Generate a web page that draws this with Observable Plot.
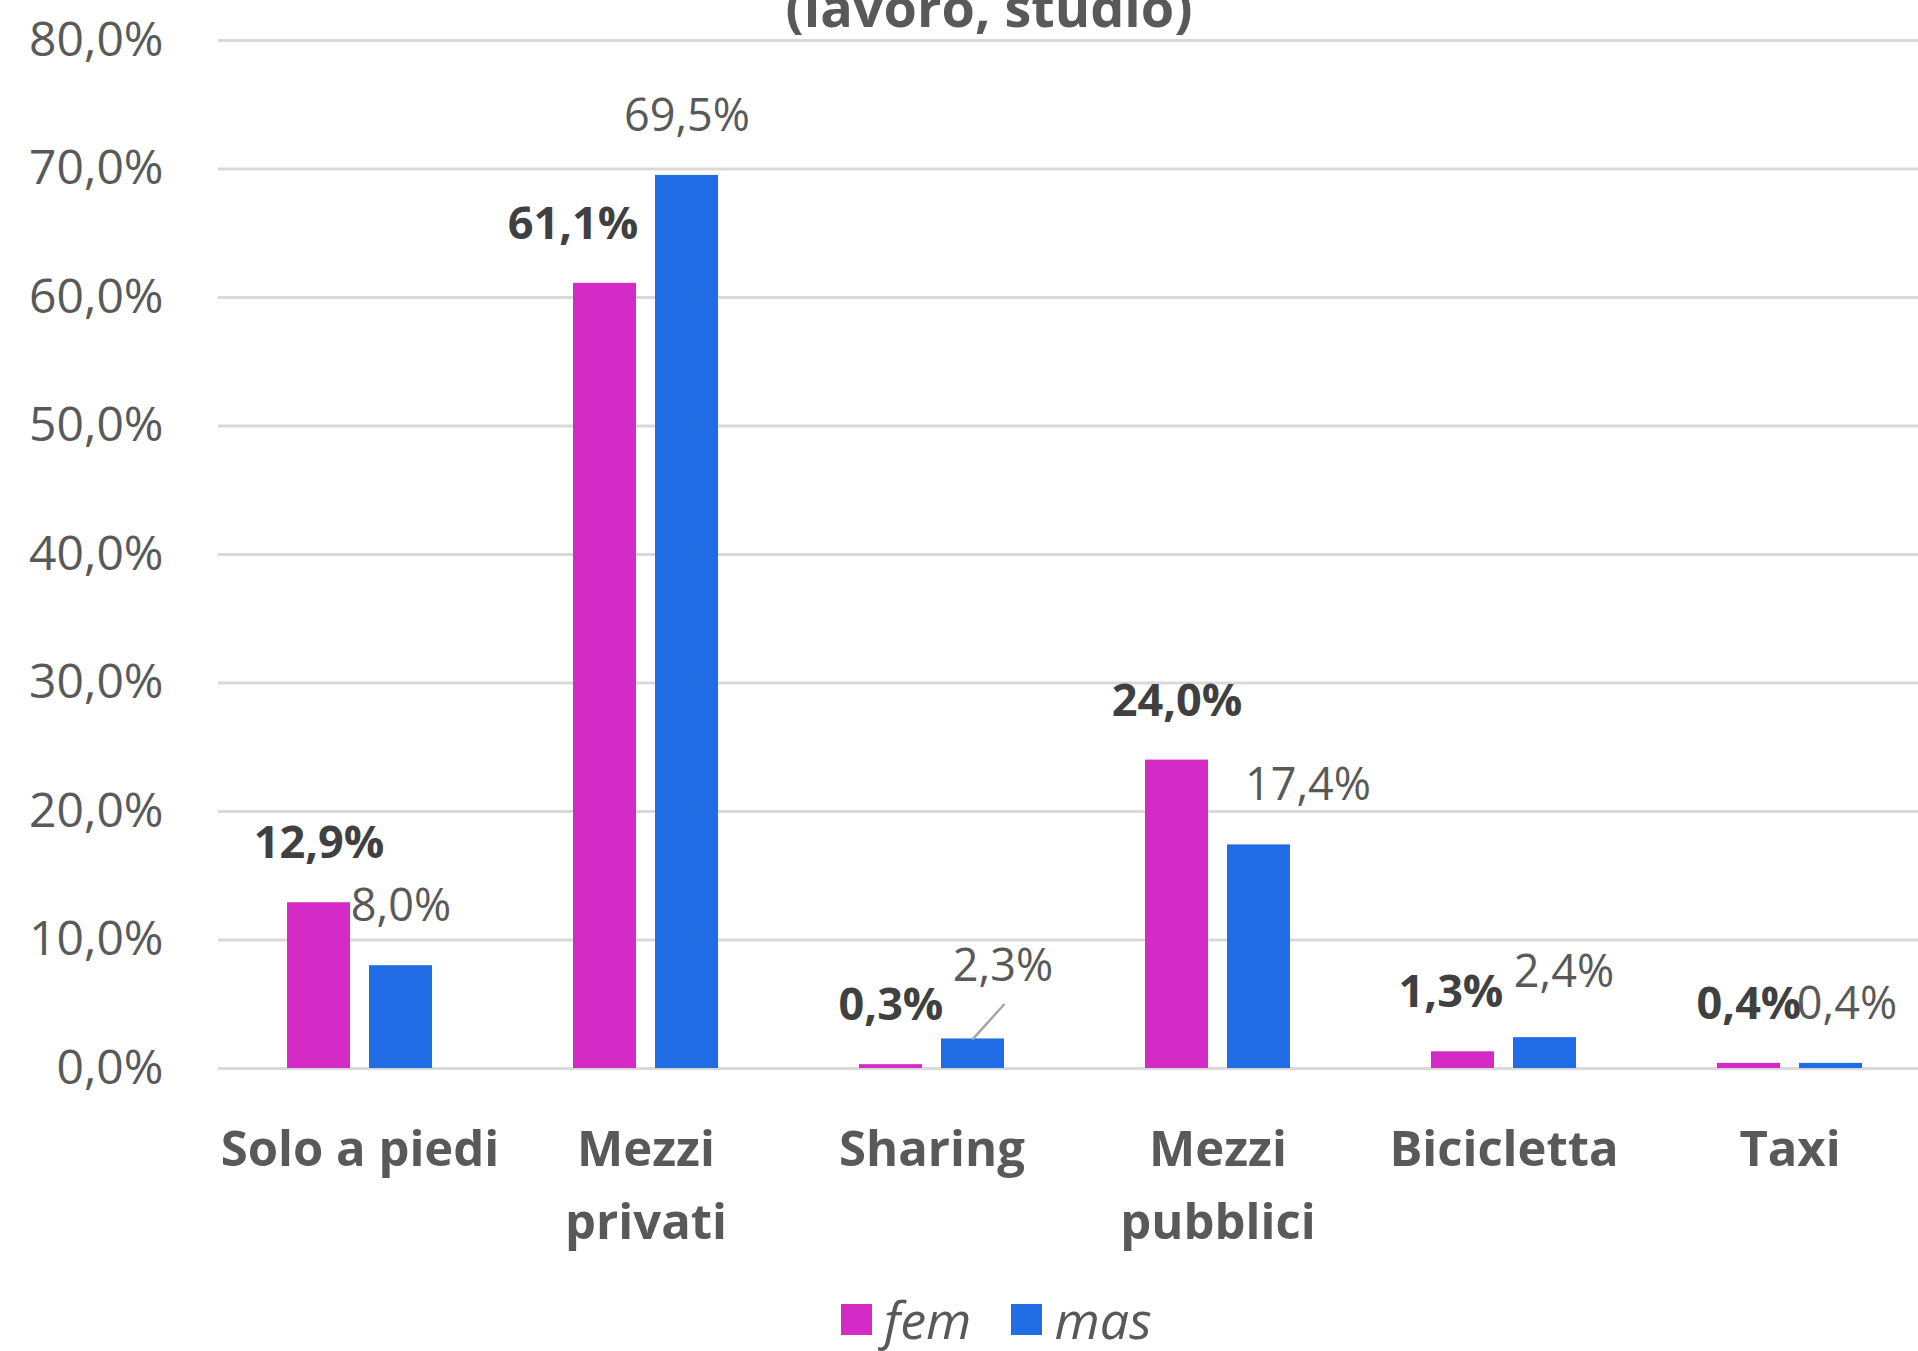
<!DOCTYPE html>
<html>
<head>
<meta charset="utf-8">
<script src="https://cdn.jsdelivr.net/npm/d3@7"></script>
<script src="https://cdn.jsdelivr.net/npm/@observablehq/plot@0.6"></script>
<style>
  html, body { margin: 0; padding: 0; background: #fff; overflow: hidden; }
  body { width: 1918px; height: 1351px; position: relative; font-family: "Open Sans", "Noto Sans", sans-serif; }
  #chart { position: absolute; left: 0; top: 0; }
  #title { position: absolute; left: 589px; width: 800px; top: -21px; text-align: center;
           font-size: 54px; line-height: 54px; font-weight: bold; color: #595959; white-space: nowrap; }
  #legend { position: absolute; left: 841px; top: 1289px; height: 60px; display: flex; align-items: center;
            font-size: 52px; line-height: 60px; font-style: italic; color: #595959; }
  #legend .sw { width: 31px; height: 31px; display: inline-block; margin-right: 12px; }
  #legend .item { display: flex; align-items: center; margin-right: 40px; height: 60px; }
</style>
</head>
<body>
<div id="chart"></div>
<div id="title">(lavoro, studio)</div>
<div id="legend"></div>
<script>
// ---- data ----
const categories = ["Solo a piedi", "Mezzi privati", "Sharing", "Mezzi pubblici", "Bicicletta", "Taxi"];
const categoryLabels = ["Solo a piedi", "Mezzi\nprivati", "Sharing", "Mezzi\npubblici", "Bicicletta", "Taxi"];
const series = ["fem", "mas"];
const femValues = [12.9, 61.1, 0.3, 24.0, 1.3, 0.4];
const masValues = [8.0, 69.5, 2.3, 17.4, 2.4, 0.4];
const yTicks = [0, 10, 20, 30, 40, 50, 60, 70, 80];

// ---- styling / layout ----
const colors = {fem: "#D42AC6", mas: "#1F6CE4"};
const barOffset = {fem: -41, mas: 41};
// manual label nudges (px) like the original's hand-placed data labels
const nudge = {
  "Mezzi privati|fem": [-32, 0],
  "Sharing|mas": [30, -13],
  "Mezzi pubblici|mas": [49, 0],
  "Bicicletta|fem": [-12, 0],
  "Bicicletta|mas": [19, -6],
  "Taxi|mas": [16, 0]
};
const fmt = v => v.toFixed(1).replace(".", ",") + "%";

const rows = categories.flatMap((c, i) => [
  {cat: c, series: "fem", value: femValues[i]},
  {cat: c, series: "mas", value: masValues[i]}
]);

const labelGroups = d3.groups(rows, d => {
  const n = nudge[d.cat + "|" + d.series] || [0, 0];
  return d.series + "|" + n.join(",");
});

const labelMarks = labelGroups.map(([k, arr]) => {
  const [s, n] = k.split("|");
  const [nx, ny] = n.split(",").map(Number);
  return Plot.text(arr, {
    x: "cat", y: "value", text: d => fmt(d.value),
    dx: barOffset[s] + nx, dy: -59 + ny,
    lineAnchor: "middle", textAnchor: "middle",
    fontSize: 45, fontWeight: s === "fem" ? "bold" : "normal",
    fill: s === "fem" ? "#404040" : "#595959"
  });
});

const leader = Plot.vector(rows.filter(d => d.cat === "Sharing" && d.series === "mas"), {
  x: "cat", y: "value", dx: barOffset.mas,
  length: 46, rotate: 42, anchor: "start",
  stroke: "#a6a6a6", strokeWidth: 2.5,
  shape: {draw(ctx, l) { ctx.moveTo(0, 0); ctx.lineTo(0, -l); }}
});

const chart = Plot.plot({
  width: 1918,
  height: 1275,
  marginTop: 40,
  marginBottom: 207,
  marginLeft: 218,
  marginRight: 0,
  style: {fontFamily: "'Open Sans', 'Noto Sans', sans-serif", fontSize: "48px", color: "#595959", background: "white", overflow: "hidden"},
  x: {domain: categories, range: [217, 1933], paddingInner: 0.778, paddingOuter: 0.389, axis: null},
  y: {domain: [0, 80], ticks: yTicks, tickFormat: fmt, tickSize: 0, tickPadding: 55, label: null},
  marks: [
    Plot.ruleY(yTicks, {stroke: "#d9d9d9", strokeWidth: 3}),
    ...series.map(s => Plot.barY(rows.filter(d => d.series === s), {
      x: "cat", y: "value", fill: colors[s], dx: barOffset[s]
    })),
    leader,
    ...labelMarks,
    Plot.text(categories, {
      x: d => d, text: (d, i) => categoryLabels[i],
      frameAnchor: "bottom", lineAnchor: "top", dy: 45,
      fontSize: 49, fontWeight: "bold", fill: "#595959", lineHeight: 1.5
    })
  ]
});
document.getElementById("chart").appendChild(chart);

const legend = document.getElementById("legend");
series.forEach(s => {
  const item = document.createElement("div");
  item.className = "item";
  const sw = document.createElement("span");
  sw.className = "sw";
  sw.style.background = colors[s];
  const t = document.createElement("span");
  t.textContent = s;
  item.appendChild(sw);
  item.appendChild(t);
  legend.appendChild(item);
});
</script>
</body>
</html>
